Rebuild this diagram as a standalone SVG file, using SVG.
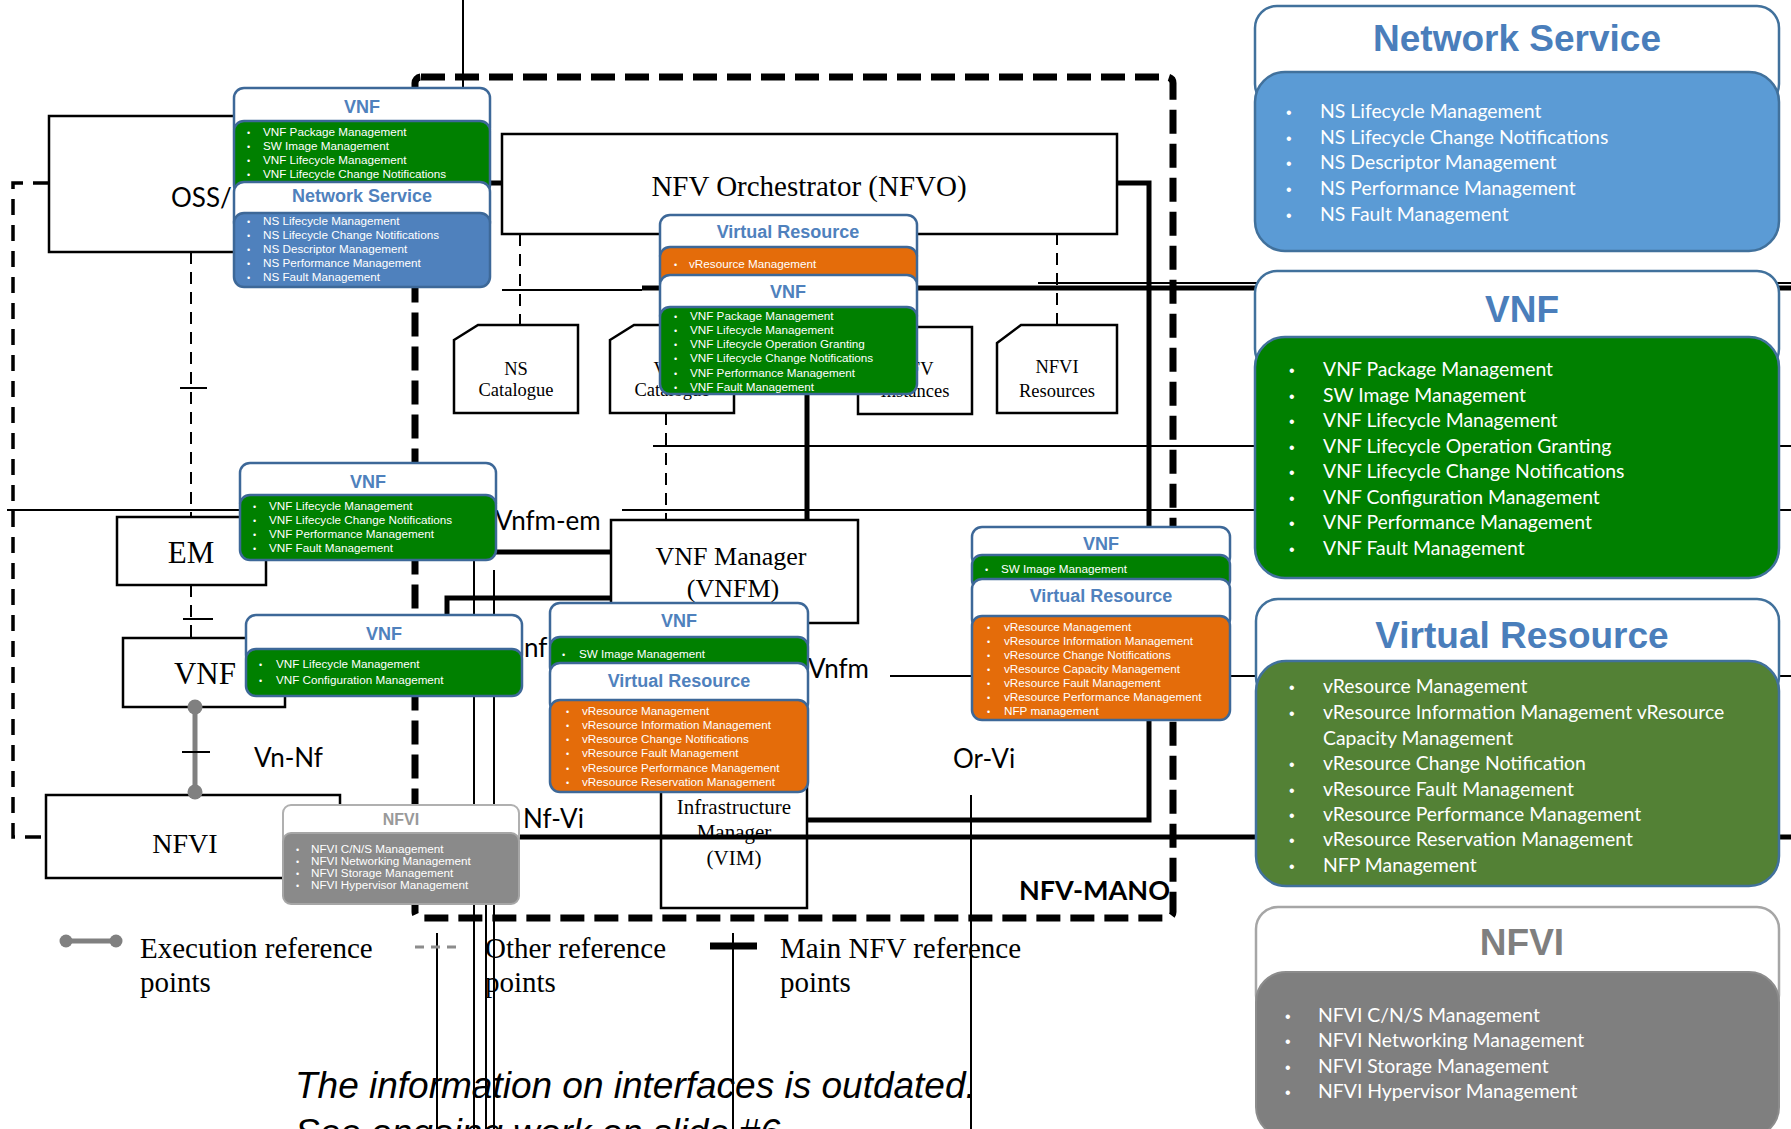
<svg xmlns="http://www.w3.org/2000/svg" width="1791" height="1129" viewBox="0 0 1791 1129">
<style>
.box{fill:#fff;stroke:#000;stroke-width:2.5}
.serif{font-family:"Liberation Serif","Times New Roman",serif;fill:#000;text-anchor:middle}
.lg{font-family:"Liberation Serif","Times New Roman",serif;fill:#000;font-size:29px}
.lbl{font-family:Lato,"Liberation Sans",sans-serif;fill:#000;font-size:26px}
.ln{stroke:#000;fill:none;stroke-width:2}
.tk{stroke:#000;fill:none;stroke-width:5}
.dsh{stroke-dasharray:12 8}
.coh{fill:#fff;stroke:#3d6898;stroke-width:2.5}
.cob{stroke:#3d6898;stroke-width:2.5}
.ct{font-family:"Liberation Sans",Arial,sans-serif;font-weight:bold;fill:#4f81bd;text-anchor:middle;font-size:18px}
.it{font-family:"Liberation Sans",Arial,sans-serif;fill:#fff;font-size:11.7px}
.bu{font-family:"Liberation Sans",Arial,sans-serif;fill:#fff;font-size:9px}
.gr{fill:#008000}
.or{fill:#e46c0a}
.bl{fill:#4f81bd}
.ph{fill:#fff;stroke:#41719c;stroke-width:2.5}
.pt{font-family:"Liberation Sans",Arial,sans-serif;font-weight:bold;fill:#4a7ebb;text-anchor:middle;font-size:37px}
.pi{font-family:Lato,"Liberation Sans",sans-serif;fill:#fff;font-size:19.4px}
.pb{font-family:"Liberation Sans",Arial,sans-serif;fill:#fff;font-size:16px}
</style>
<rect width="1791" height="1129" fill="#fff"/>

<g id="nfv-mano">
<rect x="415" y="77" width="758" height="841" rx="6" fill="none" stroke="#000" stroke-width="7" stroke-dasharray="24 10"/>
<text x="1019" y="900" font-family="Lato,'Liberation Sans',sans-serif" font-weight="bold" font-size="27" fill="#000">NFV-MANO</text>
</g>

<g id="oss-bss"><rect class="box" x="49" y="116" width="380" height="136"/><text class="lbl" x="171" y="207">OSS/BSS</text></g>
<g id="nfvo"><rect class="box" x="502" y="134" width="615" height="100"/><text class="serif" x="809" y="196" font-size="29">NFV Orchestrator (NFVO)</text></g>
<g id="ns-catalogue"><path class="box" d="M454,340 L478,325 H578 V413 H454 Z"/><text class="serif" font-size="18.5"><tspan x="516" y="375">NS</tspan><tspan x="516" y="396">Catalogue</tspan></text></g>
<g id="vnf-catalogue"><path class="box" d="M610,340 L634,325 H734 V413 H610 Z"/><text class="serif" font-size="18.5"><tspan x="672" y="375">VNF</tspan><tspan x="672" y="396">Catalogue</tspan></text></g>
<g id="nfv-instances"><path class="box" d="M858,342 L882,327 H972 V414 H858 Z"/><text class="serif" font-size="18.5"><tspan x="915" y="375">NFV</tspan><tspan x="915" y="397">Instances</tspan></text></g>
<g id="nfvi-resources"><path class="box" d="M997,343 L1021,325 H1117 V413 H997 Z"/><text class="serif" font-size="18.5"><tspan x="1057" y="373">NFVI</tspan><tspan x="1057" y="397">Resources</tspan></text></g>
<g id="vnfm"><rect class="box" x="611" y="520" width="247" height="103"/><text class="serif" font-size="26"><tspan x="731" y="565">VNF Manager</tspan><tspan x="733" y="597">(VNFM)</tspan></text></g>
<g id="vim"><rect class="box" x="661" y="780" width="146" height="128"/><text class="serif" font-size="21"><tspan x="734" y="814">Infrastructure</tspan><tspan x="734" y="839">Manager</tspan><tspan x="734" y="865">(VIM)</tspan></text></g>
<g id="em"><rect class="box" x="117" y="517" width="149" height="68"/><text class="serif" x="191" y="563" font-size="31">EM</text></g>
<g id="vnf"><rect class="box" x="123" y="638" width="162" height="69"/><text class="serif" x="205" y="684" font-size="31">VNF</text></g>
<g id="nfvi"><rect class="box" x="46" y="795" width="294" height="83"/><text class="serif" x="185" y="853" font-size="28">NFVI</text></g>

<g id="connectors">
<path class="ln" d="M463,0 V88"/>
<path class="tk" d="M300,183 H502"/>
<path d="M49,183 H13 V837 H46" fill="none" stroke="#000" stroke-width="3.5" stroke-dasharray="16 10"/>
<path class="ln dsh" stroke-width="2.5" d="M191,252 V517"/>
<path class="ln" stroke-width="3" d="M180,388 H207"/>
<path class="ln dsh" stroke-width="2.5" d="M191,585 V638"/>
<path class="ln" stroke-width="3" d="M183,619 H213"/>
<path d="M195,707 V792" stroke="#808080" stroke-width="5"/>
<circle cx="195" cy="707" r="7.5" fill="#808080"/>
<circle cx="195" cy="792" r="7.5" fill="#808080"/>
<path class="ln" stroke-width="3" d="M182,752 H210"/>
<path class="ln" d="M7,510 H240 M622,510 H1791"/>
<path class="ln" d="M653,446 H1791"/>
<path class="ln" d="M502,290 H642"/>
<path class="tk" d="M642,288 H1791"/>
<path class="ln" d="M1038,283 H1791"/>
<path class="ln dsh" stroke-width="2.5" d="M520,234 V325 M1057,233 V325 M666,413 V520"/>
<path class="tk" d="M807,288 V520"/>
<path class="tk" d="M1117,183 H1149 V820 H808"/>
<path class="tk" d="M496,552 H611"/>
<path class="tk" d="M611,598 H447 V615"/>
<path class="ln" d="M474,560 V1129 M494,570 V1129 M486,905 V1129 M437,933 V1129 M733,933 V1129 M971,795 V1129"/>
<path class="ln" d="M890,676 H1791"/>
<path class="tk" d="M340,837 H1791"/>
<text class="lbl" x="495" y="530">Vnfm-em</text>
<text class="lbl" x="524" y="657">nf</text>
<text class="lbl" x="808" y="678">Vnfm</text>
<text class="lbl" x="953" y="768">Or-Vi</text>
<text class="lbl" x="523" y="828">Nf-Vi</text>
<text class="lbl" x="254" y="767">Vn-Nf</text>
</g>

<g id="callout-vnf-os">
<rect class="coh" x="234" y="88" width="256" height="50" rx="10"/>
<rect class="cob gr" x="234" y="121" width="256" height="74" rx="10"/>
<text class="ct" x="362" y="113">VNF</text>
<text class="bu"><tspan x="247" y="136">•</tspan><tspan x="247" y="150">•</tspan><tspan x="247" y="164">•</tspan><tspan x="247" y="178">•</tspan></text>
<text class="it"><tspan x="263" y="136">VNF Package Management</tspan><tspan x="263" y="150">SW Image Management</tspan><tspan x="263" y="164">VNF Lifecycle Management</tspan><tspan x="263" y="178">VNF Lifecycle Change Notifications</tspan></text>
</g>
<g id="callout-ns-os">
<rect class="coh" x="234" y="182" width="256" height="50" rx="10"/>
<rect class="cob bl" x="234" y="213" width="256" height="74" rx="10"/>
<text class="ct" x="362" y="202">Network Service</text>
<text class="bu"><tspan x="247" y="225">•</tspan><tspan x="247" y="239">•</tspan><tspan x="247" y="253">•</tspan><tspan x="247" y="267">•</tspan><tspan x="247" y="281">•</tspan></text>
<text class="it"><tspan x="263" y="225">NS Lifecycle Management</tspan><tspan x="263" y="239">NS Lifecycle Change Notifications</tspan><tspan x="263" y="253">NS Descriptor Management</tspan><tspan x="263" y="267">NS Performance Management</tspan><tspan x="263" y="281">NS Fault Management</tspan></text>
</g>
<g id="callout-or-vnfm">
<rect class="coh" x="660" y="215" width="257" height="50" rx="10"/>
<rect class="cob or" x="660" y="247" width="257" height="45" rx="10"/>
<text class="ct" x="788" y="238">Virtual Resource</text>
<text class="bu" x="674" y="268">•</text>
<text class="it" x="689" y="268">vResource Management</text>
<rect class="coh" x="660" y="275" width="257" height="50" rx="10"/>
<rect class="cob gr" x="660" y="307" width="257" height="87" rx="10"/>
<text class="ct" x="788" y="298">VNF</text>
<text class="bu"><tspan x="674" y="320">•</tspan><tspan x="674" y="334">•</tspan><tspan x="674" y="348">•</tspan><tspan x="674" y="362">•</tspan><tspan x="674" y="377">•</tspan><tspan x="674" y="391">•</tspan></text>
<text class="it"><tspan x="690" y="320">VNF Package Management</tspan><tspan x="690" y="334">VNF Lifecycle Management</tspan><tspan x="690" y="348">VNF Lifecycle Operation Granting</tspan><tspan x="690" y="362">VNF Lifecycle Change Notifications</tspan><tspan x="690" y="377">VNF Performance Management</tspan><tspan x="690" y="391">VNF Fault Management</tspan></text>
</g>
<g id="callout-vnfm-em">
<rect class="coh" x="240" y="463" width="256" height="50" rx="10"/>
<rect class="cob gr" x="240" y="495" width="256" height="65" rx="10"/>
<text class="ct" x="368" y="488">VNF</text>
<text class="bu"><tspan x="253" y="510">•</tspan><tspan x="253" y="524">•</tspan><tspan x="253" y="538">•</tspan><tspan x="253" y="552">•</tspan></text>
<text class="it"><tspan x="269" y="510">VNF Lifecycle Management</tspan><tspan x="269" y="524">VNF Lifecycle Change Notifications</tspan><tspan x="269" y="538">VNF Performance Management</tspan><tspan x="269" y="552">VNF Fault Management</tspan></text>
</g>
<g id="callout-ve-vnfm">
<rect class="coh" x="246" y="615" width="276" height="50" rx="10"/>
<rect class="cob gr" x="246" y="649" width="276" height="47" rx="10"/>
<text class="ct" x="384" y="640">VNF</text>
<text class="bu"><tspan x="259" y="668">•</tspan><tspan x="259" y="684">•</tspan></text>
<text class="it" font-size="12.6"><tspan x="276" y="668">VNF Lifecycle Management</tspan><tspan x="276" y="684">VNF Configuration Management</tspan></text>
</g>
<g id="callout-vi-vnfm">
<rect class="coh" x="550" y="603" width="258" height="50" rx="10"/>
<rect class="cob gr" x="550" y="637" width="258" height="40" rx="10"/>
<text class="ct" x="679" y="627">VNF</text>
<text class="bu" x="562" y="658">•</text>
<text class="it" x="579" y="658">SW Image Management</text>
<rect class="coh" x="550" y="663" width="258" height="50" rx="10"/>
<rect class="cob or" x="550" y="700" width="258" height="92" rx="10"/>
<text class="ct" x="679" y="687">Virtual Resource</text>
<text class="bu"><tspan x="566" y="715">•</tspan><tspan x="566" y="729">•</tspan><tspan x="566" y="743">•</tspan><tspan x="566" y="757">•</tspan><tspan x="566" y="772">•</tspan><tspan x="566" y="786">•</tspan></text>
<text class="it"><tspan x="582" y="715">vResource Management</tspan><tspan x="582" y="729">vResource Information Management</tspan><tspan x="582" y="743">vResource Change Notifications</tspan><tspan x="582" y="757">vResource Fault Management</tspan><tspan x="582" y="772">vResource Performance Management</tspan><tspan x="582" y="786">vResource Reservation Management</tspan></text>
</g>
<g id="callout-or-vi">
<rect class="coh" x="972" y="527" width="258" height="40" rx="10"/>
<rect class="cob gr" x="972" y="555" width="258" height="35" rx="10"/>
<text class="ct" x="1101" y="550">VNF</text>
<text class="bu" x="985" y="573">•</text>
<text class="it" x="1001" y="573">SW Image Management</text>
<rect class="coh" x="972" y="579" width="258" height="50" rx="10"/>
<rect class="cob or" x="972" y="616" width="258" height="104" rx="10"/>
<text class="ct" x="1101" y="602">Virtual Resource</text>
<text class="bu"><tspan x="987" y="631">•</tspan><tspan x="987" y="645">•</tspan><tspan x="987" y="659">•</tspan><tspan x="987" y="673">•</tspan><tspan x="987" y="687">•</tspan><tspan x="987" y="701">•</tspan><tspan x="987" y="715">•</tspan></text>
<text class="it"><tspan x="1004" y="631">vResource Management</tspan><tspan x="1004" y="645">vResource Information Management</tspan><tspan x="1004" y="659">vResource Change Notifications</tspan><tspan x="1004" y="673">vResource Capacity Management</tspan><tspan x="1004" y="687">vResource Fault Management</tspan><tspan x="1004" y="701">vResource Performance Management</tspan><tspan x="1004" y="715">NFP management</tspan></text>
</g>
<g id="callout-nf-vi">
<rect x="283" y="805" width="236" height="40" rx="8" fill="#fff" stroke="#b0b0b0" stroke-width="2"/>
<rect x="283" y="833" width="236" height="71" rx="8" fill="#8a8a8a" stroke="#a6a6a6" stroke-width="2"/>
<text x="401" y="825" font-family="'Liberation Sans',Arial,sans-serif" font-weight="bold" font-size="16" fill="#999999" text-anchor="middle">NFVI</text>
<text class="bu" font-size="7" fill="#e8e8e8"><tspan x="296" y="853">•</tspan><tspan x="296" y="865">•</tspan><tspan x="296" y="877">•</tspan><tspan x="296" y="889">•</tspan></text>
<text class="it" font-size="9.7" fill="#eeeeee"><tspan x="311" y="853">NFVI C/N/S Management</tspan><tspan x="311" y="865">NFVI Networking Management</tspan><tspan x="311" y="877">NFVI Storage Management</tspan><tspan x="311" y="889">NFVI Hypervisor Management</tspan></text>
</g>

<g id="panel-network-service">
<rect class="ph" x="1255" y="6" width="524" height="100" rx="22"/>
<rect x="1255" y="72" width="524" height="179" rx="30" fill="#5b9bd5" stroke="#41719c" stroke-width="2.5"/>
<text class="pt" x="1517" y="51">Network Service</text>
<text class="pb"><tspan x="1286" y="118">•</tspan><tspan x="1286" y="144">•</tspan><tspan x="1286" y="169">•</tspan><tspan x="1286" y="195">•</tspan><tspan x="1286" y="221">•</tspan></text>
<text class="pi"><tspan x="1320" y="118">NS Lifecycle Management</tspan><tspan x="1320" y="144">NS Lifecycle Change Notifications</tspan><tspan x="1320" y="169">NS Descriptor Management</tspan><tspan x="1320" y="195">NS Performance Management</tspan><tspan x="1320" y="221">NS Fault Management</tspan></text>
</g>
<g id="panel-vnf">
<rect class="ph" x="1255" y="271" width="524" height="100" rx="22"/>
<rect x="1255" y="337" width="524" height="241" rx="30" fill="#008000" stroke="#41719c" stroke-width="2.5"/>
<text class="pt" x="1522" y="322">VNF</text>
<text class="pb"><tspan x="1289" y="376">•</tspan><tspan x="1289" y="402">•</tspan><tspan x="1289" y="427">•</tspan><tspan x="1289" y="453">•</tspan><tspan x="1289" y="478">•</tspan><tspan x="1289" y="504">•</tspan><tspan x="1289" y="529">•</tspan><tspan x="1289" y="555">•</tspan></text>
<text class="pi"><tspan x="1323" y="376">VNF Package Management</tspan><tspan x="1323" y="402">SW Image Management</tspan><tspan x="1323" y="427">VNF Lifecycle Management</tspan><tspan x="1323" y="453">VNF Lifecycle Operation Granting</tspan><tspan x="1323" y="478">VNF Lifecycle Change Notifications</tspan><tspan x="1323" y="504">VNF Configuration Management</tspan><tspan x="1323" y="529">VNF Performance Management</tspan><tspan x="1323" y="555">VNF Fault Management</tspan></text>
</g>
<g id="panel-virtual-resource">
<rect class="ph" x="1256" y="599" width="523" height="100" rx="22"/>
<rect x="1256" y="661" width="523" height="225" rx="30" fill="#538135" stroke="#41719c" stroke-width="2.5"/>
<text class="pt" x="1522" y="648">Virtual Resource</text>
<text class="pb"><tspan x="1289" y="693">•</tspan><tspan x="1289" y="719">•</tspan><tspan x="1289" y="770">•</tspan><tspan x="1289" y="796">•</tspan><tspan x="1289" y="821">•</tspan><tspan x="1289" y="846">•</tspan><tspan x="1289" y="872">•</tspan></text>
<text class="pi"><tspan x="1323" y="693">vResource Management</tspan><tspan x="1323" y="719">vResource Information Management vResource</tspan><tspan x="1323" y="745">Capacity Management</tspan><tspan x="1323" y="770">vResource Change Notification</tspan><tspan x="1323" y="796">vResource Fault Management</tspan><tspan x="1323" y="821">vResource Performance Management</tspan><tspan x="1323" y="846">vResource Reservation Management</tspan><tspan x="1323" y="872">NFP Management</tspan></text>
</g>
<g id="panel-nfvi">
<rect x="1256" y="907" width="523" height="110" rx="22" fill="#fff" stroke="#a6a6a6" stroke-width="2.5"/>
<rect x="1256" y="972" width="523" height="165" rx="30" fill="#7f7f7f" stroke="#8c8c8c" stroke-width="2"/>
<text class="pt" x="1522" y="955" style="fill:#7f7f7f">NFVI</text>
<text class="pb"><tspan x="1285" y="1022">•</tspan><tspan x="1285" y="1047">•</tspan><tspan x="1285" y="1073">•</tspan><tspan x="1285" y="1098">•</tspan></text>
<text class="pi"><tspan x="1318" y="1022">NFVI C/N/S Management</tspan><tspan x="1318" y="1047">NFVI Networking Management</tspan><tspan x="1318" y="1073">NFVI Storage Management</tspan><tspan x="1318" y="1098">NFVI Hypervisor Management</tspan></text>
</g>

<g id="legend">
<path d="M66,941 H116" stroke="#808080" stroke-width="5"/>
<circle cx="66" cy="941" r="6.5" fill="#808080"/><circle cx="116" cy="941" r="6.5" fill="#808080"/>
<text class="lg"><tspan x="140" y="958">Execution reference</tspan><tspan x="140" y="992">points</tspan></text>
<path d="M415,947 H463" stroke="#8c8c8c" stroke-width="3" stroke-dasharray="9 7"/>
<text class="lg"><tspan x="485" y="958">Other reference</tspan><tspan x="485" y="992">points</tspan></text>
<path d="M710,946 H757" stroke="#000" stroke-width="7"/>
<text class="lg"><tspan x="780" y="958">Main NFV reference</tspan><tspan x="780" y="992">points</tspan></text>
</g>
<g id="note">
<text font-family="'Liberation Sans',Arial,sans-serif" font-style="italic" font-size="37" fill="#000"><tspan x="295" y="1098">The information on interfaces is outdated.</tspan><tspan x="295" y="1145">See ongoing work on slide #6</tspan></text>
</g>
</svg>
